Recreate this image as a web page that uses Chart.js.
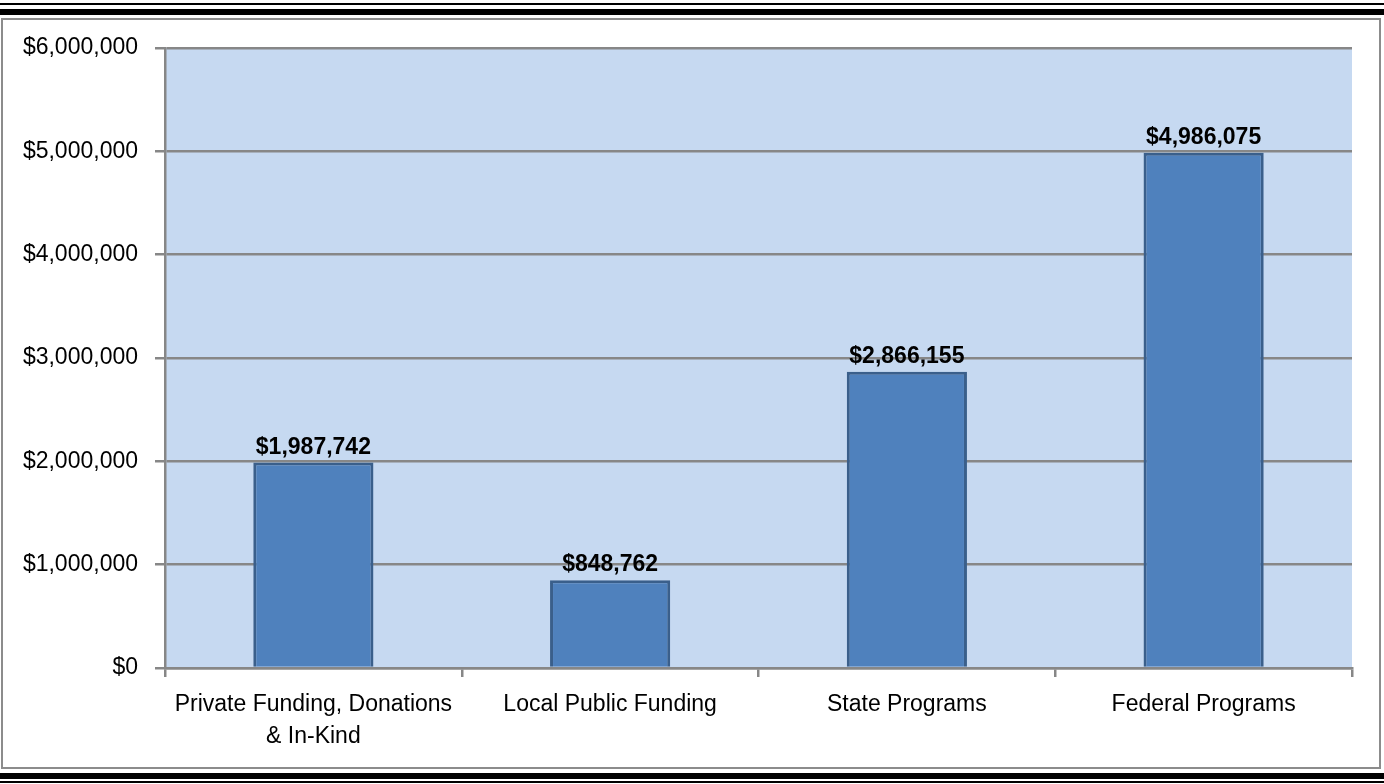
<!DOCTYPE html>
<html>
<head>
<meta charset="utf-8">
<script src="https://cdn.jsdelivr.net/npm/chart.js@4.4.1/dist/chart.umd.min.js"></script>
<style>
  html, body { margin: 0; padding: 0; background: #fff; }
  #wrap { width: 1384px; height: 784px; }
</style>
</head>
<body>
<div id="wrap"><canvas id="chart" width="1384" height="784"></canvas></div>
<script>
const categories = [
  ['Private Funding, Donations', '& In-Kind'],
  'Local Public Funding',
  'State Programs',
  'Federal Programs'
];
const fundingValues = [1987742, 848762, 2866155, 4986075];
const yTicks = [0, 1000000, 2000000, 3000000, 4000000, 5000000, 6000000];

const FONT = '"Liberation Sans", Arial, sans-serif';
const GRID = '#878787';

const money = (v) => '$' + Math.round(v).toLocaleString('en-US');

// page frame: double black rules top/bottom, grey chart box, blue plot area
const framePlugin = {
  id: 'frame',
  beforeDraw(chart) {
    const { ctx, chartArea } = chart;
    const w = chart.width;
    ctx.save();
    ctx.fillStyle = '#000';
    ctx.fillRect(0, 3, w, 2);
    ctx.fillRect(0, 9, w, 6);
    ctx.fillRect(0, 773, w, 6);
    ctx.fillRect(0, 781, w, 2);
    ctx.strokeStyle = '#8c8c8c';
    ctx.lineWidth = 2;
    ctx.strokeRect(2, 19, 1378, 749);
    ctx.fillStyle = '#c6d9f1';
    ctx.fillRect(chartArea.left, chartArea.top,
      chartArea.right - chartArea.left, chartArea.bottom - chartArea.top);
    ctx.restore();
  }
};

const valueLabelPlugin = {
  id: 'valueLabels',
  afterDatasetsDraw(chart) {
    const { ctx } = chart;
    const meta = chart.getDatasetMeta(0);
    ctx.save();
    ctx.fillStyle = '#000';
    ctx.font = 'bold 23px ' + FONT;
    ctx.textAlign = 'center';
    ctx.textBaseline = 'alphabetic';
    meta.data.forEach((bar, i) => {
      ctx.fillText(money(fundingValues[i]), bar.x, bar.y - 9);
    });
    ctx.restore();
  }
};

new Chart(document.getElementById('chart'), {
  type: 'bar',
  data: {
    labels: categories,
    datasets: [{
      data: fundingValues,
      backgroundColor: '#4f81bd',
      borderColor: '#3a5f8b',
      borderWidth: 3,
      borderSkipped: 'bottom',
      barPercentage: 0.405,
      categoryPercentage: 1.0
    }]
  },
  options: {
    responsive: false,
    animation: false,
    layout: { padding: { left: 0, top: 48, right: 32, bottom: 0 } },
    plugins: {
      legend: { display: false },
      tooltip: { enabled: false }
    },
    scales: {
      x: {
        afterFit(scale) { scale.height = 116; },
        grid: {
          offset: true,
          drawOnChartArea: false,
          drawTicks: true,
          tickLength: 9,
          color: GRID,
          lineWidth: 2.5
        },
        border: { display: true, color: GRID, width: 2.5 },
        ticks: {
          color: '#000',
          padding: 12,
          font: { family: FONT, size: 23, lineHeight: '32px' }
        }
      },
      y: {
        min: 0,
        max: 6000000,
        afterFit(scale) { scale.width = 165; },
        afterBuildTicks(scale) { scale.ticks = yTicks.map((v) => ({ value: v })); },
        grid: {
          color: GRID,
          lineWidth: 2.5,
          drawTicks: true,
          tickLength: 10
        },
        border: { display: true, color: GRID, width: 2.5 },
        ticks: {
          color: '#000',
          padding: 17,
          font: { family: FONT, size: 23 },
          callback: (v) => money(v)
        }
      }
    }
  },
  plugins: [framePlugin, valueLabelPlugin]
});
</script>
</body>
</html>
